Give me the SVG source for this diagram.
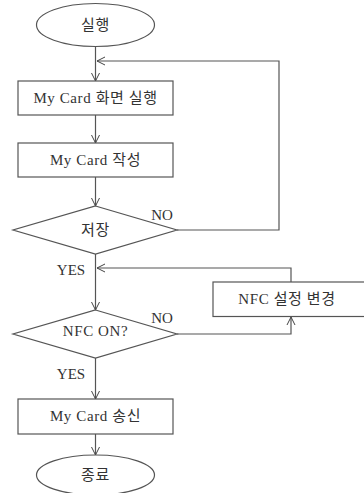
<svg xmlns="http://www.w3.org/2000/svg" width="364" height="493" viewBox="0 0 364 493">
<defs>
<marker id="arr" markerWidth="10" markerHeight="10" refX="9" refY="5" orient="auto" markerUnits="userSpaceOnUse">
<path d="M1,1 L9,5 L1,9" fill="none" stroke="#444" stroke-width="1"/>
</marker>
<style>
.s{fill:#fff;stroke:#555;stroke-width:1.2}
.c{fill:none;stroke:#555;stroke-width:1.2}
.t{font-family:"Liberation Serif","Noto Sans CJK KR",serif;font-size:15px;letter-spacing:0.6px;fill:#333;text-anchor:middle;dominant-baseline:central}
.l{font-family:"Liberation Serif","Noto Sans CJK KR",serif;font-size:15px;fill:#333;text-anchor:middle;dominant-baseline:central}
</style>
</defs>
<rect width="364" height="493" fill="#fff"/>
<g id="connectors">
<line class="c" x1="95.5" y1="46" x2="95.5" y2="81" marker-end="url(#arr)"/>
<polyline class="c" points="177,230 279,230 279,61 97,61" marker-end="url(#arr)"/>
<line class="c" x1="95.5" y1="115" x2="95.5" y2="143" marker-end="url(#arr)"/>
<line class="c" x1="95.5" y1="177" x2="95.5" y2="206" marker-end="url(#arr)"/>
<line class="c" x1="95.5" y1="254" x2="95.5" y2="310" marker-end="url(#arr)"/>
<polyline class="c" points="291,282 291,268 97,268" marker-end="url(#arr)"/>
<polyline class="c" points="177,334 291,334 291,317" marker-end="url(#arr)"/>
<line class="c" x1="95.5" y1="358" x2="95.5" y2="399" marker-end="url(#arr)"/>
<line class="c" x1="95.5" y1="434" x2="95.5" y2="455" marker-end="url(#arr)"/>
<text class="l" x="162" y="215">NO</text>
<text class="l" x="71" y="270">YES</text>
<text class="l" x="162" y="318">NO</text>
<text class="l" x="71" y="374">YES</text>
</g>
<g id="start">
<ellipse class="s" cx="95.5" cy="25" rx="59" ry="21.5"/>
<text class="t" x="95.5" y="25">실행</text>
</g>
<g id="screen">
<rect class="s" x="18" y="81" width="155" height="34"/>
<text class="t" x="95.5" y="98">My Card 화면 실행</text>
</g>
<g id="write">
<rect class="s" x="18" y="143" width="155" height="34"/>
<text class="t" x="95.5" y="160">My Card 작성</text>
</g>
<g id="save">
<polygon class="s" points="95.5,206 177,230 95.5,254 13,230"/>
<text class="t" x="95.5" y="230">저장</text>
</g>
<g id="nfcset">
<rect class="s" x="213" y="282" width="155" height="34.5"/>
<text class="t" x="287" y="299">NFC 설정 변경</text>
</g>
<g id="nfcon">
<polygon class="s" points="95.5,310 177,334 95.5,358 13,334"/>
<text class="t" x="95.5" y="331">NFC ON?</text>
</g>
<g id="send">
<rect class="s" x="18" y="399" width="155" height="35"/>
<text class="t" x="95.5" y="416">My Card 송신</text>
</g>
<g id="end">
<ellipse class="s" cx="95.5" cy="475" rx="59" ry="20"/>
<text class="t" x="95.5" y="475">종료</text>
</g>
</svg>
